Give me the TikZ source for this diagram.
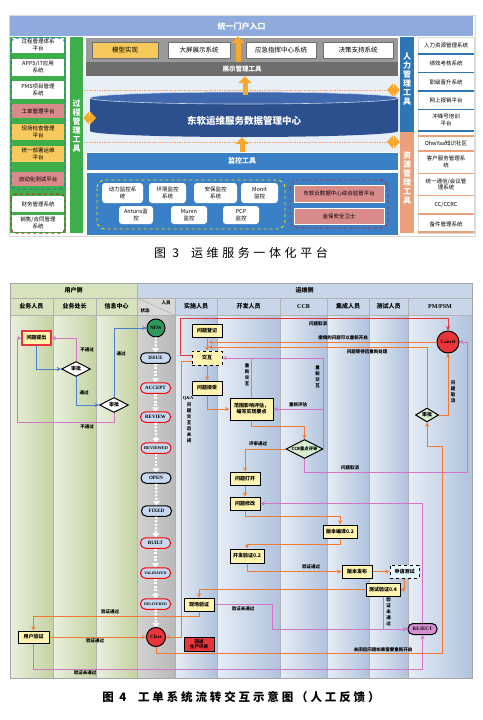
\documentclass[tikz,border=0pt]{standalone}
\usepackage{fontspec}
\setmainfont{Noto Sans CJK SC}
\newfontfamily\romanfont{Liberation Serif}
\usepackage{tikz}
\usetikzlibrary{arrows,arrows.meta,shapes.geometric,positioning}
\definecolor{portalblue}{HTML}{8FAADC}
\definecolor{procgreen}{HTML}{3DAE49}
\definecolor{dashblue}{HTML}{2F6FD0}
\definecolor{dashred}{HTML}{C0282D}
\definecolor{sysred}{HTML}{D98A8A}
\definecolor{sysyellow}{HTML}{F7C95C}
\definecolor{bandgray}{HTML}{9A9A9A}
\definecolor{banddark}{HTML}{6E6E6E}
\definecolor{cylblue}{HTML}{2C4F8E}
\definecolor{cyltop}{HTML}{4068AE}
\definecolor{monblue}{HTML}{3A80C6}
\definecolor{hrblue}{HTML}{2E75B6}
\definecolor{ressalmon}{HTML}{EBA07A}
\definecolor{arroworange}{HTML}{F5A82A}
\definecolor{lightbg}{HTML}{E8EFF7}
\definecolor{laneg}{HTML}{C3D3A2}
\definecolor{laneb}{HTML}{AFC3DD}
\definecolor{hdrg}{HTML}{D7E3BC}
\definecolor{hdrb}{HTML}{C8D6E9}
\definecolor{taskyel}{HTML}{FFF4B0}
\definecolor{decgreen}{HTML}{D6EFD2}
\definecolor{stateblue}{HTML}{C6D9F1}
\definecolor{stategreen}{HTML}{2F9A5E}
\definecolor{flowor}{HTML}{F07A32}
\definecolor{flowpk}{HTML}{D474C6}
\definecolor{flowrd}{HTML}{E8353B}
\definecolor{flowbl}{HTML}{4A80CC}
\definecolor{rejectpk}{HTML}{D48ED2}

\begin{document}
\begin{tikzpicture}[
		x=1pt, y=-1pt,
		font=\fontsize{5}{6}\selectfont,
		>=stealth,
		sysbox/.style={fill=white, minimum width=52pt, inner sep=0pt, align=center, font=\fontsize{5.5}{6.5}\selectfont},
		sideitem/.style={minimum width=56pt, inner sep=0pt, align=center, font=\fontsize{5.5}{6.5}\selectfont},
		topbox/.style={draw=banddark, fill=white, minimum height=16pt, inner sep=0pt, font=\fontsize{6.5}{7}\selectfont},
		monbox/.style={fill=white, rounded corners=3pt, minimum height=20pt, inner sep=0pt, align=center, font=\fontsize{5.5}{6.5}\selectfont},
		vbar/.style={text=white, align=center, inner sep=0pt, font=\fontsize{8}{9}\selectfont\bfseries},
		fatarrow/.style={draw=arroworange, line width=5pt, -{Triangle[width=13pt,length=7pt]}},
		fatboth/.style={draw=arroworange, line width=5pt, {Triangle[width=13pt,length=6pt]}-{Triangle[width=13pt,length=6pt]}},
		dashor/.style={draw=flowor!70, line width=0.8pt, dash pattern=on 1.5pt off 1pt},
		hdr/.style={draw=gray!60, minimum height=17pt, inner sep=0pt, font=\fontsize{6}{7}\selectfont\bfseries},
		ulane/.style={left color=laneg!35, right color=laneg, draw=gray!60},
		olane/.style={left color=laneb!30, right color=laneb, draw=gray!60},
		slane/.style={left color=gray!35, right color=gray!55, draw=gray!60},
		state/.style={draw=black, line width=1pt, fill=stateblue, rounded corners=5pt, minimum width=30pt, minimum height=10.5pt, inner sep=0pt, font=\fontsize{5}{6}\romanfont\bfseries},
		redstate/.style={state, draw=red},
		statearrow/.style={draw=white, line width=2.4pt, dash pattern=on 2pt off 1.5pt, -{Triangle[width=7pt,length=4pt]}},
		task/.style={draw=black, line width=1pt, fill=taskyel, minimum width=30pt, minimum height=13pt, inner sep=1pt, align=center, font=\fontsize{5}{6}\selectfont\bfseries},
		decision/.style={diamond, draw=black, line width=1pt, fill=decgreen, aspect=2, inner sep=0pt, font=\fontsize{5}{6}\selectfont\bfseries},
		orflow/.style={draw=flowor, line width=0.9pt, ->},
		pkflow/.style={draw=flowpk, line width=0.9pt, ->},
		rdflow/.style={draw=flowrd, line width=1pt, ->},
		blflow/.style={draw=flowbl, line width=0.9pt, ->},
		lbl/.style={inner sep=0.5pt, font=\fontsize{4.5}{5}\selectfont\bfseries},
		vlbl/.style={inner sep=0.5pt, align=center, font=\fontsize{4.5}{6}\selectfont\bfseries}
		]
		\useasboundingbox[fill=white] (0,0) rectangle (482,720);
		
		% ---------- figure 3 ----------
		\draw[gray!30] (9,15) rectangle (475,236);
		\node[fill=portalblue, minimum width=463pt, minimum height=20pt, text=white, font=\fontsize{8}{9}\selectfont\bfseries] (portal) at (241.5,26) {统一门户入口};
		
		% left column
		\fill[procgreen] (10,37) rectangle (66,233);
		\node[sysbox, minimum height=15pt] (sys1) at (38,45) {过程管理体系\\平台};
		\node[sysbox, minimum height=17pt] (sys2) at (38,67) {APPS/IT应用\\系统};
		\node[sysbox, minimum height=18pt] (sys3) at (38,90) {PMS项目管理\\系统};
		\node[sysbox, fill=sysred, minimum height=14pt] (sys4) at (38,111) {工单管理平台};
		\node[sysbox, fill=sysyellow, minimum height=16pt] (sys5) at (38,132) {现场检查管理\\平台};
		\node[sysbox, fill=sysyellow, minimum height=16pt] (sys6) at (38,154) {统一部署运维\\平台};
		\node[sysbox, fill=sysred, minimum height=14pt] (sys7) at (38,179) {自动化测试平台};
		\node[sysbox, minimum height=16pt] (sys8) at (38,204) {财务管理系统};
		\node[sysbox, minimum height=17pt] (sys9) at (38,223) {销售/合同管理\\系统};
		\draw[dashblue, line width=1pt, dashed, rounded corners=5pt] (11,38) rectangle (65,189);
		\draw[dashred, line width=1pt, dashed, rounded corners=5pt] (11,194) rectangle (65,233);
		\node[fill=procgreen, minimum width=13pt, minimum height=196pt, inner sep=0pt] (procbar) at (76.5,135) {};
		\node[vbar] (proclabel) at (76.5,126) {过\\程\\管\\理\\工\\具};
		
		% centre
		\fill[lightbg] (84,76) rectangle (400,152);
		\fill[bandgray] (86,38) rectangle (398,62);
		\node[fill=banddark, minimum width=312pt, minimum height=14pt, inner sep=0pt, text=white, font=\fontsize{6.5}{7}\selectfont\bfseries] (showtool) at (242,69) {展示管理工具};
		\node[topbox, fill=sysyellow, minimum width=66pt] (model) at (125,50) {模型实现};
		\node[topbox, minimum width=62pt] (bigscreen) at (199,50) {大屏展示系统};
		\node[topbox, minimum width=70pt] (emerg) at (281,50) {应急指挥中心系统};
		\node[topbox, minimum width=70pt] (decide) at (358,50) {决策支持系统};
		
		\draw[dashor] (84,90) -- (388,90);
		\draw[dashor] (84,142) -- (388,142);
		
		\fill[cylblue] (90,98) -- (90,131) arc[start angle=180, end angle=360, x radius=154pt, y radius=6pt] -- (398,98) -- cycle;
		\filldraw[fill=cyltop, draw=white!70!cyltop, line width=0.6pt] (244,98) ellipse [x radius=154pt, y radius=6pt];
		\node[minimum width=308pt, minimum height=42pt, inner sep=0pt] (dc) at (244,116) {};
		\node[text=white, font=\fontsize{9.5}{10}\selectfont\bfseries] (dctext) at (244,121) {东软运维服务数据管理中心};
		
		\node[fill=monblue, draw=white, minimum width=312pt, minimum height=18pt, inner sep=0pt, text=white, font=\fontsize{7}{8}\selectfont\bfseries] (montool) at (242,161) {监控工具};
		\filldraw[fill=monblue, draw=white] (86,172) rectangle (398,235);
		\draw[yellow!80!orange, line width=0.9pt, dashed, rounded corners=8pt] (97,180) rectangle (285,229);
		\draw[dashred, line width=0.9pt, dashed, rounded corners=8pt] (290,180) rectangle (388,228);
		\node[monbox, minimum width=41pt] (power) at (122.5,193) {动力监控系\\统};
		\node[monbox, minimum width=37pt] (envir) at (167.5,193) {环境监控\\系统};
		\node[monbox, minimum width=43pt] (secur) at (215.5,193) {安保监控\\系统};
		\node[monbox, minimum width=37pt] (monit) at (259.5,193) {Monit\\监控};
		\node[monbox, minimum width=34pt, minimum height=18pt] (anturis) at (136,215) {Anturis监\\控};
		\node[monbox, minimum width=36pt, minimum height=18pt] (munin) at (189,215) {Munin\\监控};
		\node[monbox, minimum width=36pt, minimum height=18pt] (pcp) at (241,215) {PCP\\监控};
		\node[monbox, rounded corners=0pt, draw=white, fill=sysred, minimum width=90pt, minimum height=17pt] (cloud) at (339,193.5) {东软云数据中心综合监管平台};
		\node[monbox, rounded corners=0pt, draw=white, fill=sysred, minimum width=90pt, minimum height=16pt] (jinbao) at (339,216) {金保安全卫士};
		
		\draw[fatarrow] ([xshift=-4pt]showtool.north) -- ([xshift=-4pt]showtool.north |- portal.south);
		\draw[fatarrow] ([xshift=1pt]dc.north) -- ([xshift=1pt]dc.north |- showtool.south);
		\draw[fatarrow] (montool.north) -- (montool.north |- dc.south);
		
		% right column
		\node[fill=hrblue, minimum width=14pt, minimum height=95pt, inner sep=0pt] (hrbar) at (407,84.5) {};
		\node[vbar] (hrlabel) at (407,79) {人\\力\\管\\理\\工\\具};
		\node[fill=ressalmon, minimum width=14pt, minimum height=101pt, inner sep=0pt] (resbar) at (407,182.5) {};
		\node[vbar] (reslabel) at (407,178) {资\\源\\管\\理\\工\\具};
		\draw[fatboth] (procbar.east |- 0,118) -- (96,118);
		\draw[fatboth] (hrbar.west |- 0,90) -- (387,90);
		\draw[fatboth] (resbar.west |- 0,142) -- (387,142);
		
		\draw[gray!30] (418,37) rectangle (474,233);
		\draw[hrblue, line width=1.8pt] (418,54) -- (474,54) (418,72.5) -- (474,72.5) (418,91) -- (474,91) (418,109.5) -- (474,109.5) (418,131) -- (474,131);
		\draw[ressalmon, line width=1.8pt] (418,136) -- (474,136) (418,151) -- (474,151) (418,173.5) -- (474,173.5) (418,195.5) -- (474,195.5) (418,214) -- (474,214) (418,232) -- (474,232);
		\node[sideitem] (hr1) at (446,45.5) {人力资源管理系统};
		\node[sideitem] (hr2) at (446,63.5) {绩效考核系统};
		\node[sideitem] (hr3) at (446,82) {职级晋升系统};
		\node[sideitem] (hr4) at (446,100) {网上报销平台};
		\node[sideitem] (hr5) at (446,120) {冲锋号培训\\平台};
		\node[sideitem] (res1) at (446,143.5) {OhwYaa知识社区};
		\node[sideitem] (res2) at (446,162) {客户服务管理系\\统};
		\node[sideitem] (res3) at (446,184.5) {统一通信/会议管\\理系统};
		\node[sideitem] (res4) at (446,205) {CC/CCRC};
		\node[sideitem] (res5) at (446,224) {备件管理系统};
		
		\node[font=\fontsize{12}{13}\selectfont\addfontfeature{LetterSpace=30}] (cap3) at (241,253) {图 3\quad 运维服务一体化平台};
		
		% ---------- figure 4 ----------
		\shade[ulane] (10,315) rectangle (53,678);
		\shade[ulane] (53,315) rectangle (96,678);
		\shade[ulane] (96,315) rectangle (137,678);
		\shade[slane] (137,315) rectangle (175,678);
		\shade[olane] (175,315) rectangle (217,678);
		\shade[olane] (217,315) rectangle (280,678);
		\shade[olane] (280,315) rectangle (327,678);
		\shade[olane] (327,315) rectangle (369,678);
		\shade[olane] (369,315) rectangle (408,678);
		\shade[olane] (408,315) rectangle (472,678);
		
		\node[hdr, fill=hdrg, minimum width=127pt, minimum height=15pt] (userside) at (73.5,290.5) {用户侧};
		\node[hdr, fill=hdrb, minimum width=335pt, minimum height=15pt] (opsside) at (304.5,290.5) {运维侧};
		\node[hdr, fill=hdrg, minimum width=43pt] (hbiz) at (31.5,306.5) {业务人员};
		\node[hdr, fill=hdrg, minimum width=43pt] (hchief) at (74.5,306.5) {业务处长};
		\node[hdr, fill=hdrg, minimum width=41pt] (hinfo) at (116.5,306.5) {信息中心};
		\node[hdr, fill=gray!30, minimum width=38pt] (hstate) at (156,306.5) {};
		\node[hdr, fill=hdrb, minimum width=42pt] (himpl) at (196,306.5) {实施人员};
		\node[hdr, fill=hdrb, minimum width=63pt] (hdev) at (248.5,306.5) {开发人员};
		\node[hdr, fill=hdrb, minimum width=47pt, font=\fontsize{6}{7}\romanfont\bfseries] (hccb) at (303.5,306.5) {CCB};
		\node[hdr, fill=hdrb, minimum width=42pt] (hint) at (348,306.5) {集成人员};
		\node[hdr, fill=hdrb, minimum width=39pt] (htest) at (388.5,306.5) {测试人员};
		\node[hdr, fill=hdrb, minimum width=64pt, font=\fontsize{6}{7}\romanfont\bfseries] (hpm) at (440,306.5) {PM/PSM};
		\draw[gray!70] (hstate.north west) -- (hstate.south east);
		\node[lbl] (hperson) at (166,302.5) {人员};
		\node[lbl] (hstatus) at (145,311) {状态};
		\draw[gray!70] (10,283) rectangle (472,678);
		
		% states
		\node[state, circle, rounded corners=0pt, fill=stategreen, minimum size=18pt] (new) at (156,328) {NEW};
		\node[state] (issue) at (155.5,358) {ISSUE};
		\node[redstate] (accept) at (155.5,388) {ACCEPT};
		\node[redstate] (review) at (155.5,417) {REVIEW};
		\node[redstate, font=\fontsize{4.3}{5}\romanfont\bfseries] (reviewed) at (156,448) {REVIEWED};
		\node[state] (open) at (156,478) {OPEN};
		\node[state] (fixed) at (156.5,511) {FIXED};
		\node[redstate] (built) at (155.5,543) {BUILT};
		\node[redstate, font=\fontsize{3.8}{5}\romanfont\bfseries] (validated) at (155.5,573) {VALIDATED};
		\node[redstate, font=\fontsize{3.8}{5}\romanfont\bfseries] (delivered) at (155.5,604) {DELIVERED};
		\node[state, circle, rounded corners=0pt, fill=flowrd, minimum size=19pt] (close) at (156,637) {Close};
		\draw[statearrow] (new) -- (issue);
		\draw[statearrow] (issue) -- (accept);
		\draw[statearrow] (accept) -- (review);
		\draw[statearrow] (review) -- (reviewed);
		\draw[statearrow] (reviewed) -- (open);
		\draw[statearrow] (open) -- (fixed);
		\draw[statearrow] (fixed) -- (built);
		\draw[statearrow] (built) -- (validated);
		\draw[statearrow] (validated) -- (delivered);
		\draw[statearrow] (delivered) -- (close);
		
		% user side
		\node[task, draw=flowrd, line width=1.3pt, minimum width=29pt, minimum height=14pt] (req) at (36.5,338) {问题提出};
		\node[decision, fill=white, minimum width=29pt, minimum height=15pt] (appr1) at (76,369) {审批};
		\node[decision, fill=white, minimum width=29pt, minimum height=15pt] (appr2) at (114,405) {审批};
		\node[task, minimum width=31pt, minimum height=12pt] (uver) at (33.5,637) {用户验证};
		
		\draw[blflow] (req.south) |- (appr1.west);
		\draw[blflow] (appr1.south) |- (appr2.west);
		\draw[blflow] (appr2.north) |- (new.west);
		\draw[pkflow] (appr1.north) |- (req.east);
		\draw[pkflow] (appr2.south) |- (17,422) |- (req.west);
		\node[lbl] (lpass1) at (84,393) {通过};
		\node[lbl] (lpass2) at (121,354) {通过};
		\node[lbl] (lfail1) at (87,350) {不通过};
		\node[lbl] (lfail2) at (87,427) {不通过};
		
		% ops side
		\node[task] (reg) at (207,330.5) {问题登记};
		\node[task, dashed, minimum height=14pt] (qa) at (207,358) {交互};
		\node[task, minimum height=14pt] (acc) at (207,388) {问题接受};
		\node[task, minimum width=43pt, minimum height=22pt] (eval) at (251.5,409) {范围影响评估，\\编写实现要点};
		\node[decision, minimum width=37pt, minimum height=19pt, font=\fontsize{4.3}{5}\selectfont\bfseries] (ccb) at (304.5,449) {CCB重点评审};
		\node[state, circle, rounded corners=0pt, fill=flowrd, minimum size=22pt] (cancel) at (448,342) {Cancel};
		\node[decision, minimum width=23pt, minimum height=14pt] (pmappr) at (427,415) {审批};
		\node[task] (openit) at (245,478.5) {问题打开};
		\node[task] (fix) at (245,503.5) {问题修改};
		\node[task, minimum width=34pt] (build) at (340,531.5) {版本编译0.2};
		\node[task, minimum width=34pt, minimum height=14pt] (devv) at (247,556) {开发验证0.2};
		\node[task] (rel) at (357,571.5) {版本发布};
		\node[task, dashed, fill=cyan!10, minimum width=29pt] (reqt) at (404.5,571.5) {申请测试};
		\node[task, minimum width=34pt] (testv) at (383,589.5) {测试验证0.4};
		\node[task] (site) at (199,604.5) {现场验证};
		\node[task, fill=flowrd, minimum height=14pt, font=\fontsize{4.5}{5}\selectfont\bfseries] (rollback) at (199,644) {回退\\生产环境};
		\node[state, fill=rejectpk, draw=black, minimum width=29pt, minimum height=11pt] (reject) at (422.5,629) {REJECT};
		\coordinate (relinkA) at (208.5,342);
		\coordinate (relinkB) at (208.5,347);
		
		\draw[rdflow] ([yshift=3pt]qa.west) -| (180,318) -| (cancel.north);
		\draw[orflow] (reg.south) -- (qa.north);
		\draw[orflow] (qa.south) -- (acc.north);
		\draw[orflow] (acc.south) |- (eval.west);
		\draw[orflow] (cancel.west) -- (relinkA);
		\draw[orflow] (pmappr.north) |- (relinkB);
		\draw[orflow] (eval.south) -- ++(0,6) -| (ccb.north);
		\draw[orflow] (ccb.west) -| (openit.north);
		\draw[orflow] (openit.south) -- (fix.north);
		\draw[orflow] (fix.south) -- ++(0,6) -| (build.north);
		\draw[orflow] (build.south) -- ++(0,6) -| (devv.north);
		\draw[orflow] (devv.south) |- (rel.west);
		\draw[orflow] (rel.east) -- (reqt.west);
		\draw[orflow] (reqt.south) |- (testv.east);
		\draw[orflow] (testv.west) -| (site.north);
		\draw[orflow] (site.south) -- ++(0,5) -| (uver.north);
		\draw[orflow] (uver.east) -- (close.west);
		\draw[orflow] ([yshift=-3pt]qa.west) -- ++(-10,0) |- (close.east);
		\draw[orflow] (close.south) -- ++(0,6) -| (442,446) -| (pmappr.south);
		\draw[orflow] (pmappr.east) -| (cancel.south);
		\draw[pkflow] (testv.south) |- (reject.west);
		\draw[pkflow] (site.east) -- ++(58,0) |- (reject.west);
		\draw[pkflow] (reject.north) |- (fix.east);
		\draw[pkflow] (uver.south) -- ++(0,26) -| (reject.south);
		\draw[pkflow] (ccb.south) |- (467,472) |- (cancel.east);
		\draw[pkflow] (ccb.east) |- (qa.east);
		\draw[pkflow] (ccb.east |- eval.east) -- (eval.east);
		\draw[draw=flowpk, line width=0.9pt] (eval.north) -- (eval.north |- qa.east);
		
		\node[lbl] (lcancel1) at (318,324) {问题取消};
		\node[lbl] (lreopen) at (343,337.5) {撤销的问题可以重新开启};
		\node[lbl] (lwait) at (367,352) {问题等待后重新处理};
		\node[vlbl] (lredo1) at (247,375) {重\\新\\交\\互};
		\node[vlbl] (lredo2) at (317.5,377) {重\\新\\交\\互};
		\node[lbl] (lreeval) at (298,405) {重新评估};
		\node[lbl] (lccbpass) at (258,444) {评审通过};
		\node[lbl] (lcancel2) at (350,468) {问题取消};
		\node[vlbl] (lcancel3) at (453,392) {问\\题\\取\\消};
		\node[lbl, font=\fontsize{4.5}{5}\romanfont\bfseries] (lqa) at (188,398) {Q\&A};
		\node[vlbl] (lqaclose) at (189,423) {问\\题\\交\\互\\后\\关\\闭};
		\node[lbl] (lverok1) at (311,567) {验证通过};
		\node[vlbl] (lverfail1) at (388.5,612) {验\\证\\未\\通\\过};
		\node[lbl] (lverfail2) at (243,609) {验证未通过};
		\node[lbl] (lclosed) at (383,650) {关闭后问题如果需要重新开启};
		\node[lbl] (lverok2) at (110,612) {验证通过};
		\node[lbl] (lverok3) at (95,641) {验证通过};
		\node[lbl] (lverfail3) at (85,673) {验证未通过};
		
		\node[font=\fontsize{11.5}{12}\selectfont\bfseries\addfontfeature{LetterSpace=25}] (cap4) at (241,697) {图 4\quad 工单系统流转交互示意图（人工反馈）};
\end{tikzpicture}
\end{document}
